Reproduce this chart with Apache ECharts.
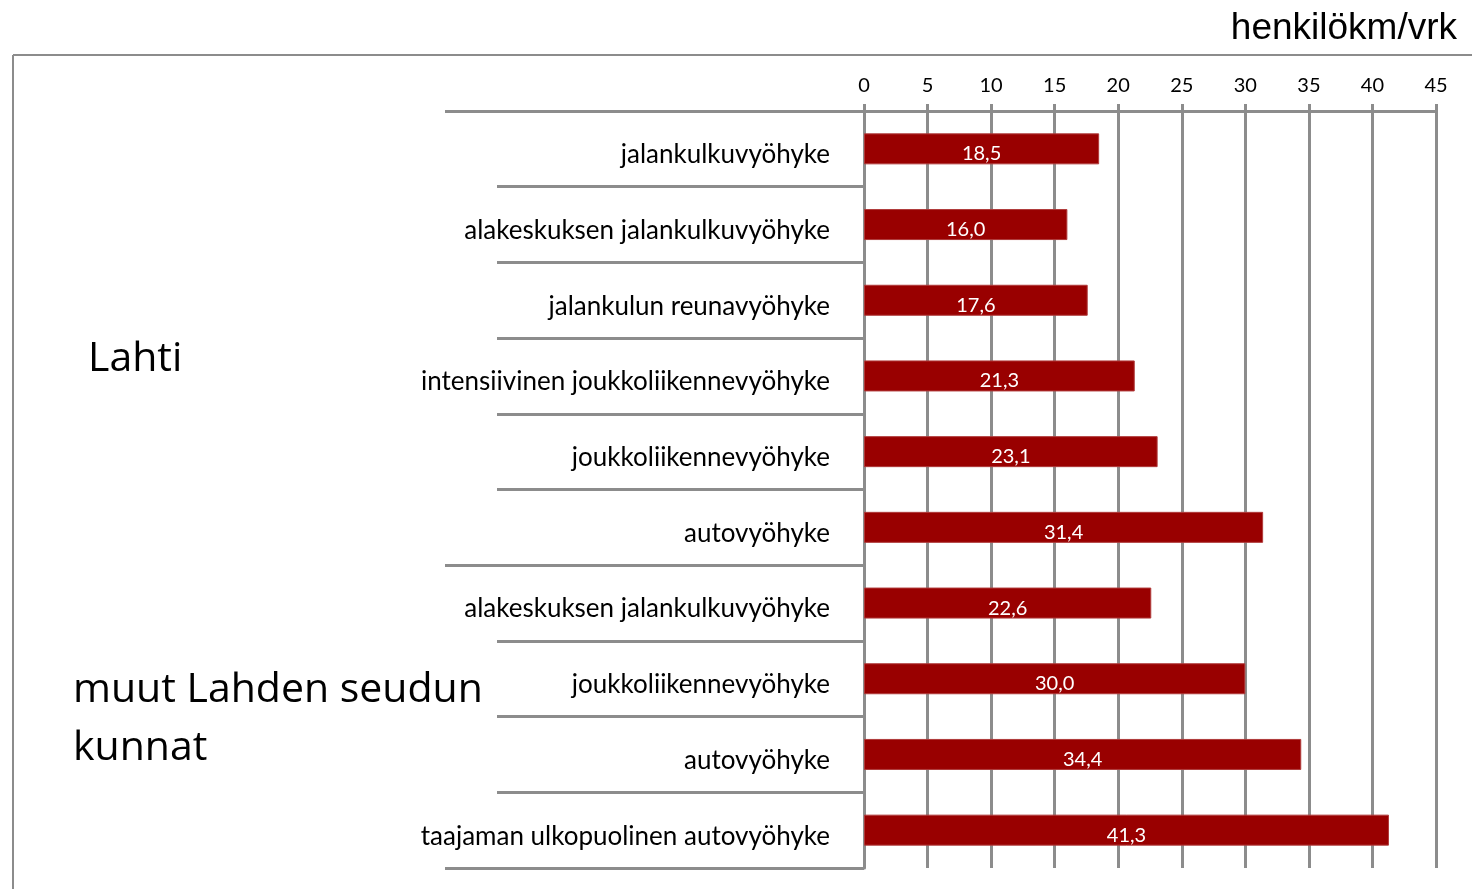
<!DOCTYPE html>
<html>
<head>
<meta charset="utf-8">
<script src="https://cdn.jsdelivr.net/npm/echarts@6/dist/echarts.min.js"></script>
<style>html,body{margin:0;padding:0;background:#fff}#c{width:1472px;height:889px}</style>
</head>
<body>
<div id="c"></div>
<script>
const categories = [
  'jalankulkuvyöhyke',
  'alakeskuksen jalankulkuvyöhyke',
  'jalankulun reunavyöhyke',
  'intensiivinen joukkoliikennevyöhyke',
  'joukkoliikennevyöhyke',
  'autovyöhyke',
  'alakeskuksen jalankulkuvyöhyke',
  'joukkoliikennevyöhyke',
  'autovyöhyke',
  'taajaman ulkopuolinen autovyöhyke'
];
const values = [18.5, 16.0, 17.6, 21.3, 23.1, 31.4, 22.6, 30.0, 34.4, 41.3];
const groupNames = ['Lahti', 'muut Lahden seudun\nkunnat'];
const groupStarts = [0, 6];
const unit = 'henkilökm/vrk';

const GRID = '#8c8c8c';
const chart = echarts.init(document.getElementById('c'));
const font = 'Lato, "Open Sans", sans-serif';
const gfont = '"Open Sans", Lato, sans-serif';

chart.setOption({
  animation: false,
  title: {
    text: unit, right: 10, top: 5,
    textStyle: {fontFamily: '"Liberation Sans", Arial, sans-serif', fontSize: 37, fontWeight: 'normal', color: '#000'}
  },
  grid: {left: 864, right: 36, top: 111, bottom: 21, containLabel: false},
  xAxis: {
    type: 'value', position: 'top', min: 0, max: 45, interval: 5,
    axisLine: {show: true, lineStyle: {color: GRID, width: 3}},
    axisTick: {show: true, length: 7, lineStyle: {color: GRID, width: 3}},
    splitLine: {show: true, lineStyle: {color: GRID, width: 3}},
    axisLabel: {margin: 15, fontFamily: font, fontSize: 20, color: '#000'}
  },
  yAxis: [{
    type: 'category', data: categories, inverse: true, position: 'left',
    axisLine: {show: true, lineStyle: {color: GRID, width: 3}},
    axisTick: {show: true, length: 367, lineStyle: {color: GRID, width: 3}},
    axisLabel: {
      margin: 34, align: 'right',
      formatter: v => '{a|' + v + '}',
      rich: {a: {fontFamily: font, fontSize: 26, color: '#000', padding: [12, 0, 0, 0]}}
    }
  }, {
    type: 'category', data: categories, inverse: true, position: 'left',
    axisLine: {show: false},
    axisTick: {show: true, length: 419, interval: function (i) { return groupStarts.indexOf(i) >= 0; },
      lineStyle: {color: GRID, width: 3}},
    axisLabel: {show: false}
  }],
  series: [{
    type: 'bar', data: values, yAxisIndex: 0, barWidth: 31,
    itemStyle: {color: '#990000', borderColor: '#b03a3a', borderWidth: 1},
    label: {
      show: true, position: 'inside', offset: [0, 5],
      fontFamily: font, fontSize: 20, color: '#fff',
      formatter: p => p.value.toFixed(1).replace('.', ',')
    }
  }],
  graphic: [
    {type: 'line', shape: {x1: 13, y1: 55, x2: 1472, y2: 55}, style: {stroke: '#8c8c8c', lineWidth: 2}},
    {type: 'line', shape: {x1: 13, y1: 55, x2: 13, y2: 889}, style: {stroke: '#8c8c8c', lineWidth: 2}},
    {type: 'text', left: 88, top: 339, style: {text: groupNames[0], font: '41px ' + gfont, fill: '#000'}},
    {type: 'text', left: 73, top: 661, style: {text: groupNames[1], font: '41px ' + gfont, fill: '#000', lineHeight: 58}}
  ]
});
</script>
</body>
</html>
